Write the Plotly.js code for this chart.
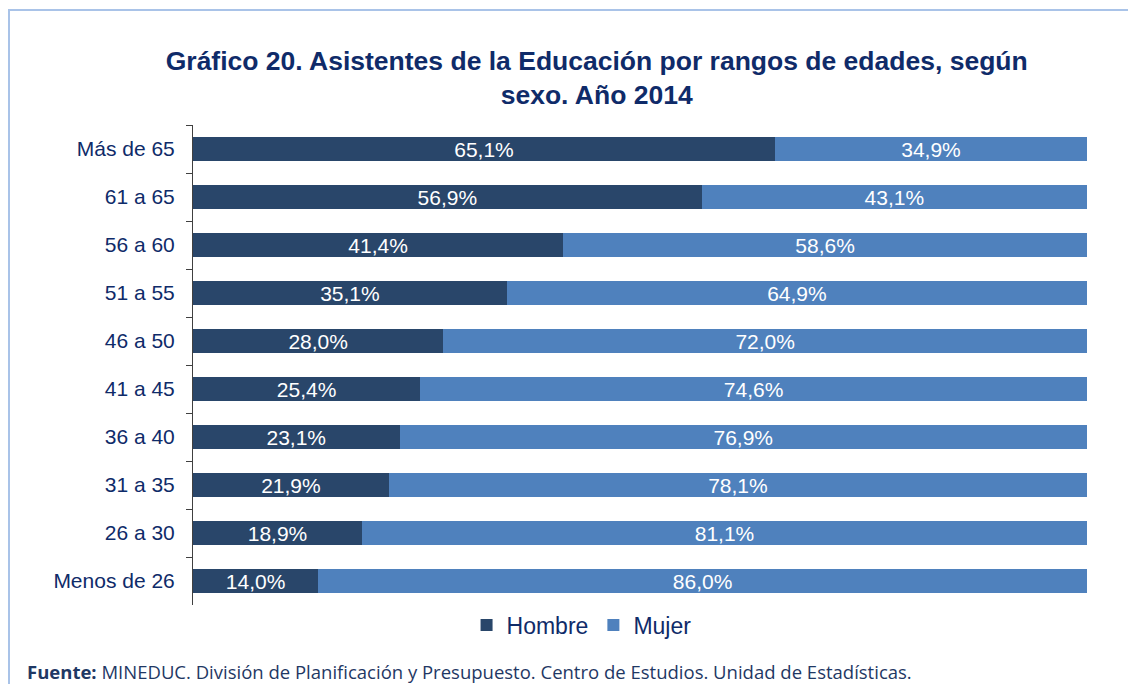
<!DOCTYPE html>
<html>
<head>
<meta charset="utf-8">
<script src="https://cdn.plot.ly/plotly-3.0.1.min.js"></script>
<style>
html,body{margin:0;padding:0;background:#fff;}
#wrap{position:relative;width:1128px;height:684px;overflow:hidden;}
#chart{width:1128px;height:684px;}
#frame{position:absolute;left:8px;top:9px;width:1200px;height:800px;border-left:2px solid #a9c3e8;border-top:2px solid #a9c3e8;pointer-events:none;}
</style>
</head>
<body>
<div id="wrap"><div id="chart"></div><div id="frame"></div></div>
<script>
const categories = ["Más de 65","61 a 65","56 a 60","51 a 55","46 a 50","41 a 45","36 a 40","31 a 35","26 a 30","Menos de 26"];
const hombre = [65.1, 56.9, 41.4, 35.1, 28.0, 25.4, 23.1, 21.9, 18.9, 14.0];
const mujer  = [34.9, 43.1, 58.6, 64.9, 72.0, 74.6, 76.9, 78.1, 81.1, 86.0];
const seriesNames = ["Hombre", "Mujer"];
const titleText = "<b>Gráfico 20. Asistentes de la Educación por rangos de edades, según<br>sexo. Año 2014</b>";
const sourceText = "<b>Fuente:</b> MINEDUC. División de Planificación y Presupuesto. Centro de Estudios. Unidad de Estadísticas.";

const fmt = v => v.toFixed(1).replace('.', ',') + '%';
const navy = '#0f2b69';
const labelFont = {family: 'Liberation Sans, Arial, sans-serif', size: 21, color: '#ffffff'};

const traces = [
  {type:'bar', orientation:'h', name: seriesNames[0], y: categories, x: hombre,
   text: hombre.map(fmt), textposition:'inside', insidetextanchor:'middle', constraintext:'none',
   textfont: labelFont, marker:{color:'#29466a'}, hoverinfo:'skip', cliponaxis:false},
  {type:'bar', orientation:'h', name: seriesNames[1], y: categories, x: mujer,
   text: mujer.map(fmt), textposition:'inside', insidetextanchor:'middle', constraintext:'none',
   textfont: labelFont, marker:{color:'#4f81bd'}, hoverinfo:'skip', cliponaxis:false}
];

const layout = {
  width:1128, height:684,
  margin:{l:193, r:41, t:125, b:79},
  paper_bgcolor:'#ffffff', plot_bgcolor:'#ffffff',
  barmode:'stack', bargap:0.5,
  font:{family:'Liberation Sans, Arial, sans-serif', color:navy},
  title:{text:titleText, x:0.529, xanchor:'center', yref:'container', y:0.898, yanchor:'top',
         font:{family:'Liberation Sans, Arial, sans-serif', size:26.5, color:navy}},
  xaxis:{range:[0,100], visible:false, fixedrange:true},
  yaxis:{type:'category', autorange:'reversed', showline:true, linecolor:'#404040', linewidth:1,
         ticks:'outside', ticklen:6, tickcolor:'#404040', tickson:'boundaries',
         tickfont:{family:'Liberation Sans, Arial, sans-serif', size:21, color:navy},
         ticklabelstandoff:13, showgrid:false, zeroline:false},
  showlegend:true,
  legend:{orientation:'h', x:0.306, xanchor:'left', y:-0.042, yanchor:'middle',
          font:{family:'Liberation Sans, Arial, sans-serif', size:23, color:navy},
          traceorder:'normal', itemwidth:30, bgcolor:'rgba(0,0,0,0)'},
  annotations:[{text:sourceText, xref:'paper', yref:'paper', x:-0.1879, y:-0.139,
                xanchor:'left', yanchor:'middle', showarrow:false, align:'left',
                font:{family:'Open Sans, Noto Sans, sans-serif', size:18.5, color:'#1f3864'}}]
};

Plotly.newPlot('chart', traces, layout, {displayModeBar:false, staticPlot:true});
</script>
</body>
</html>
